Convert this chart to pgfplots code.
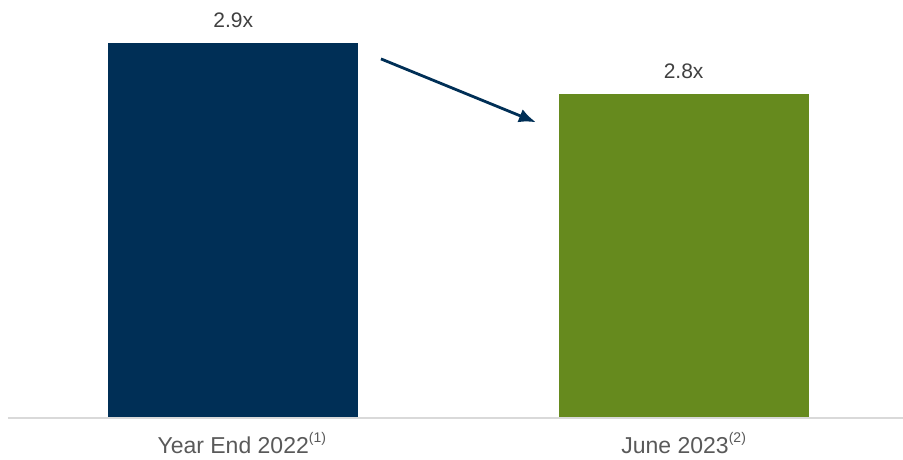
\documentclass[border=0pt]{standalone}
\usepackage{pgfplots}
\pgfplotsset{compat=1.18}
\usepackage{fontspec}
\setmainfont{Liberation Sans}
\usetikzlibrary{arrows.meta}
\definecolor{navy}{RGB}{0,47,86}
\definecolor{olive}{RGB}{102,138,30}
\definecolor{txt}{RGB}{64,64,64}
\definecolor{lbl}{RGB}{89,89,89}
\definecolor{axgray}{RGB}{217,217,217}
\newcommand{\fnsup}[1]{\raisebox{11pt}{\fontsize{14}{16}\selectfont(#1)}}
\begin{document}
\begin{tikzpicture}
\begin{axis}[
  at={(8pt,41.5pt)}, anchor=south west,
  scale only axis, width=895pt, height=417.5pt,
  xmin=-0.5, xmax=1.487, ymin=2.166, ymax=2.984,
  axis line style={draw=none},
  axis x line*=bottom, axis y line=none,
  xtick={0,1}, xticklabels={Year End 2022\rlap{\fnsup{1}}, June 2023\fnsup{2}},
  x tick label style={font=\fontsize{23}{27}\selectfont, text=lbl, anchor=base, yshift=-36pt},
  major tick length=0pt,
  ytick=\empty,
  bar width=250pt,
  /pgf/number format/assume math mode=true,
  nodes near coords={\pgfmathprintnumber[fixed,precision=1,fixed zerofill,assume math mode=true]{\pgfplotspointmeta}x},
  every node near coord/.append style={font=\fontsize{21}{25}\selectfont, text=txt, anchor=center, yshift=23pt},
  clip=false,
]
\addplot[ybar, fill=navy, draw=none, bar shift=0pt] coordinates {(0,2.9)};
\addplot[ybar, fill=olive, draw=none, bar shift=0pt] coordinates {(1,2.8)};
\draw[axgray, line width=2pt] (axis cs:-0.5,2.166) -- (axis cs:1.487,2.166);
\draw[navy, line width=2.8pt, -{Latex[length=17pt,width=14pt]}] (axis cs:0.328,2.8686) -- (axis cs:0.672,2.7445);
\end{axis}
\pgfresetboundingbox
\path (0,0) rectangle (903pt,459pt);
\end{tikzpicture}
\end{document}
